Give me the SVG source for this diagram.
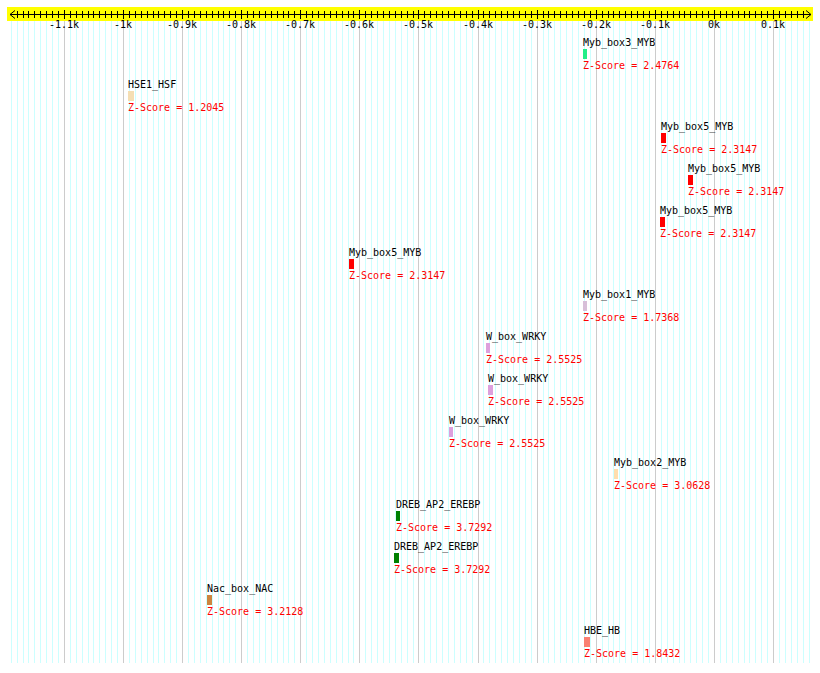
<svg xmlns="http://www.w3.org/2000/svg" width="820" height="673" viewBox="0 0 820 673">
<style>
text{font-family:"DejaVu Sans Mono","Liberation Mono",monospace;font-size:10px}
.lbl{fill:#000}
.z{fill:#ff0000}
.tk{fill:#000;text-anchor:middle}
.minor{stroke:#ccffff;stroke-width:1;fill:none}
.major{stroke:#cccccc;stroke-width:1;fill:none}
.ax{stroke:#000;stroke-width:1;fill:none}
</style>
<rect x="0" y="0" width="820" height="673" fill="#ffffff"/>
<g id="grid">
<path class="minor" d="M11.5 21V663M17.5 21V663M23.5 21V663M28.5 21V663M34.5 21V663M40.5 21V663M46.5 21V663M52.5 21V663M58.5 21V663M70.5 21V663M76.5 21V663M82.5 21V663M88.5 21V663M93.5 21V663M99.5 21V663M105.5 21V663M111.5 21V663M117.5 21V663M129.5 21V663M135.5 21V663M141.5 21V663M147.5 21V663M153.5 21V663M158.5 21V663M164.5 21V663M170.5 21V663M176.5 21V663M188.5 21V663M194.5 21V663M200.5 21V663M206.5 21V663M212.5 21V663M218.5 21V663M223.5 21V663M229.5 21V663M235.5 21V663M247.5 21V663M253.5 21V663M259.5 21V663M265.5 21V663M271.5 21V663M277.5 21V663M283.5 21V663M288.5 21V663M294.5 21V663M306.5 21V663M312.5 21V663M318.5 21V663M324.5 21V663M330.5 21V663M336.5 21V663M342.5 21V663M348.5 21V663M353.5 21V663M365.5 21V663M371.5 21V663M377.5 21V663M383.5 21V663M389.5 21V663M395.5 21V663M401.5 21V663M407.5 21V663M413.5 21V663M424.5 21V663M430.5 21V663M436.5 21V663M442.5 21V663M448.5 21V663M454.5 21V663M460.5 21V663M466.5 21V663M472.5 21V663M483.5 21V663M489.5 21V663M495.5 21V663M501.5 21V663M507.5 21V663M513.5 21V663M519.5 21V663M525.5 21V663M531.5 21V663M543.5 21V663M548.5 21V663M554.5 21V663M560.5 21V663M566.5 21V663M572.5 21V663M578.5 21V663M584.5 21V663M590.5 21V663M602.5 21V663M608.5 21V663M613.5 21V663M619.5 21V663M625.5 21V663M631.5 21V663M637.5 21V663M643.5 21V663M649.5 21V663M661.5 21V663M667.5 21V663M673.5 21V663M679.5 21V663M684.5 21V663M690.5 21V663M696.5 21V663M702.5 21V663M708.5 21V663M720.5 21V663M726.5 21V663M732.5 21V663M738.5 21V663M744.5 21V663M749.5 21V663M755.5 21V663M761.5 21V663M767.5 21V663M779.5 21V663M785.5 21V663M791.5 21V663M797.5 21V663M803.5 21V663M809.5 21V663"/>
<path class="major" d="M64.5 21V663M123.5 21V663M182.5 21V663M241.5 21V663M300.5 21V663M359.5 21V663M418.5 21V663M478.5 21V663M537.5 21V663M596.5 21V663M655.5 21V663M714.5 21V663M773.5 21V663"/>
</g>
<g id="axis">
<rect x="7" y="7" width="806" height="14" fill="#ffff00"/>
<path class="ax" d="M10 14.5H811M15 10.5L10 14.5L15 18.5M806 10.5L811 14.5L806 18.5"/>
<path class="ax" d="M17.5 11V18M23.5 11V18M28.5 11V18M34.5 11V18M40.5 11V18M46.5 11V18M52.5 11V18M58.5 11V18M70.5 11V18M76.5 11V18M82.5 11V18M88.5 11V18M93.5 11V18M99.5 11V18M105.5 11V18M111.5 11V18M117.5 11V18M129.5 11V18M135.5 11V18M141.5 11V18M147.5 11V18M153.5 11V18M158.5 11V18M164.5 11V18M170.5 11V18M176.5 11V18M188.5 11V18M194.5 11V18M200.5 11V18M206.5 11V18M212.5 11V18M218.5 11V18M223.5 11V18M229.5 11V18M235.5 11V18M247.5 11V18M253.5 11V18M259.5 11V18M265.5 11V18M271.5 11V18M277.5 11V18M283.5 11V18M288.5 11V18M294.5 11V18M306.5 11V18M312.5 11V18M318.5 11V18M324.5 11V18M330.5 11V18M336.5 11V18M342.5 11V18M348.5 11V18M353.5 11V18M365.5 11V18M371.5 11V18M377.5 11V18M383.5 11V18M389.5 11V18M395.5 11V18M401.5 11V18M407.5 11V18M413.5 11V18M424.5 11V18M430.5 11V18M436.5 11V18M442.5 11V18M448.5 11V18M454.5 11V18M460.5 11V18M466.5 11V18M472.5 11V18M483.5 11V18M489.5 11V18M495.5 11V18M501.5 11V18M507.5 11V18M513.5 11V18M519.5 11V18M525.5 11V18M531.5 11V18M543.5 11V18M548.5 11V18M554.5 11V18M560.5 11V18M566.5 11V18M572.5 11V18M578.5 11V18M584.5 11V18M590.5 11V18M602.5 11V18M608.5 11V18M613.5 11V18M619.5 11V18M625.5 11V18M631.5 11V18M637.5 11V18M643.5 11V18M649.5 11V18M661.5 11V18M667.5 11V18M673.5 11V18M679.5 11V18M684.5 11V18M690.5 11V18M696.5 11V18M702.5 11V18M708.5 11V18M720.5 11V18M726.5 11V18M732.5 11V18M738.5 11V18M744.5 11V18M749.5 11V18M755.5 11V18M761.5 11V18M767.5 11V18M779.5 11V18M785.5 11V18M791.5 11V18M797.5 11V18M803.5 11V18"/>
<path class="ax" d="M64.5 10V19M123.5 10V19M182.5 10V19M241.5 10V19M300.5 10V19M359.5 10V19M418.5 10V19M478.5 10V19M537.5 10V19M596.5 10V19M655.5 10V19M714.5 10V19M773.5 10V19"/>
<text class="tk" x="64" y="28">-1.1k</text>
<text class="tk" x="123" y="28">-1k</text>
<text class="tk" x="182" y="28">-0.9k</text>
<text class="tk" x="241" y="28">-0.8k</text>
<text class="tk" x="300" y="28">-0.7k</text>
<text class="tk" x="359" y="28">-0.6k</text>
<text class="tk" x="418" y="28">-0.5k</text>
<text class="tk" x="478" y="28">-0.4k</text>
<text class="tk" x="537" y="28">-0.3k</text>
<text class="tk" x="596" y="28">-0.2k</text>
<text class="tk" x="655" y="28">-0.1k</text>
<text class="tk" x="714" y="28">0k</text>
<text class="tk" x="773" y="28">0.1k</text>
</g>
<g id="connectors"></g>
<g id="f1"><text class="lbl" x="583" y="46">Myb_box3_MYB</text><rect x="583" y="49" width="4" height="10" fill="#22ee88"/><text class="z" x="583" y="69">Z-Score = 2.4764</text></g>
<g id="f2"><text class="lbl" x="128" y="88">HSE1_HSF</text><rect x="128" y="91" width="6" height="10" fill="#f5deb3"/><text class="z" x="128" y="111">Z-Score = 1.2045</text></g>
<g id="f3"><text class="lbl" x="661" y="130">Myb_box5_MYB</text><rect x="661" y="133" width="5" height="10" fill="#ff0000"/><text class="z" x="661" y="153">Z-Score = 2.3147</text></g>
<g id="f4"><text class="lbl" x="688" y="172">Myb_box5_MYB</text><rect x="688" y="175" width="5" height="10" fill="#ff0000"/><text class="z" x="688" y="195">Z-Score = 2.3147</text></g>
<g id="f5"><text class="lbl" x="660" y="214">Myb_box5_MYB</text><rect x="660" y="217" width="5" height="10" fill="#ff0000"/><text class="z" x="660" y="237">Z-Score = 2.3147</text></g>
<g id="f6"><text class="lbl" x="349" y="256">Myb_box5_MYB</text><rect x="349" y="259" width="5" height="10" fill="#ff0000"/><text class="z" x="349" y="279">Z-Score = 2.3147</text></g>
<g id="f7"><text class="lbl" x="583" y="298">Myb_box1_MYB</text><rect x="583" y="301" width="4" height="10" fill="#d8bfd8"/><text class="z" x="583" y="321">Z-Score = 1.7368</text></g>
<g id="f8"><text class="lbl" x="486" y="340">W_box_WRKY</text><rect x="486" y="343" width="4" height="10" fill="#dda0dd"/><text class="z" x="486" y="363">Z-Score = 2.5525</text></g>
<g id="f9"><text class="lbl" x="488" y="382">W_box_WRKY</text><rect x="488" y="385" width="5" height="10" fill="#dda0dd"/><text class="z" x="488" y="405">Z-Score = 2.5525</text></g>
<g id="f10"><text class="lbl" x="449" y="424">W_box_WRKY</text><rect x="449" y="427" width="4" height="10" fill="#dda0dd"/><text class="z" x="449" y="447">Z-Score = 2.5525</text></g>
<g id="f11"><text class="lbl" x="614" y="466">Myb_box2_MYB</text><rect x="614" y="469" width="4" height="10" fill="#ffdead"/><text class="z" x="614" y="489">Z-Score = 3.0628</text></g>
<g id="f12"><text class="lbl" x="396" y="508">DREB_AP2_EREBP</text><rect x="396" y="511" width="4" height="10" fill="#008000"/><text class="z" x="396" y="531">Z-Score = 3.7292</text></g>
<g id="f13"><text class="lbl" x="394" y="550">DREB_AP2_EREBP</text><rect x="394" y="553" width="5" height="10" fill="#008000"/><text class="z" x="394" y="573">Z-Score = 3.7292</text></g>
<g id="f14"><text class="lbl" x="207" y="592">Nac_box_NAC</text><rect x="207" y="595" width="5" height="10" fill="#cd853f"/><text class="z" x="207" y="615">Z-Score = 3.2128</text></g>
<g id="f15"><text class="lbl" x="584" y="634">HBE_HB</text><rect x="584" y="637" width="6" height="10" fill="#fa8072"/><text class="z" x="584" y="657">Z-Score = 1.8432</text></g>
</svg>
